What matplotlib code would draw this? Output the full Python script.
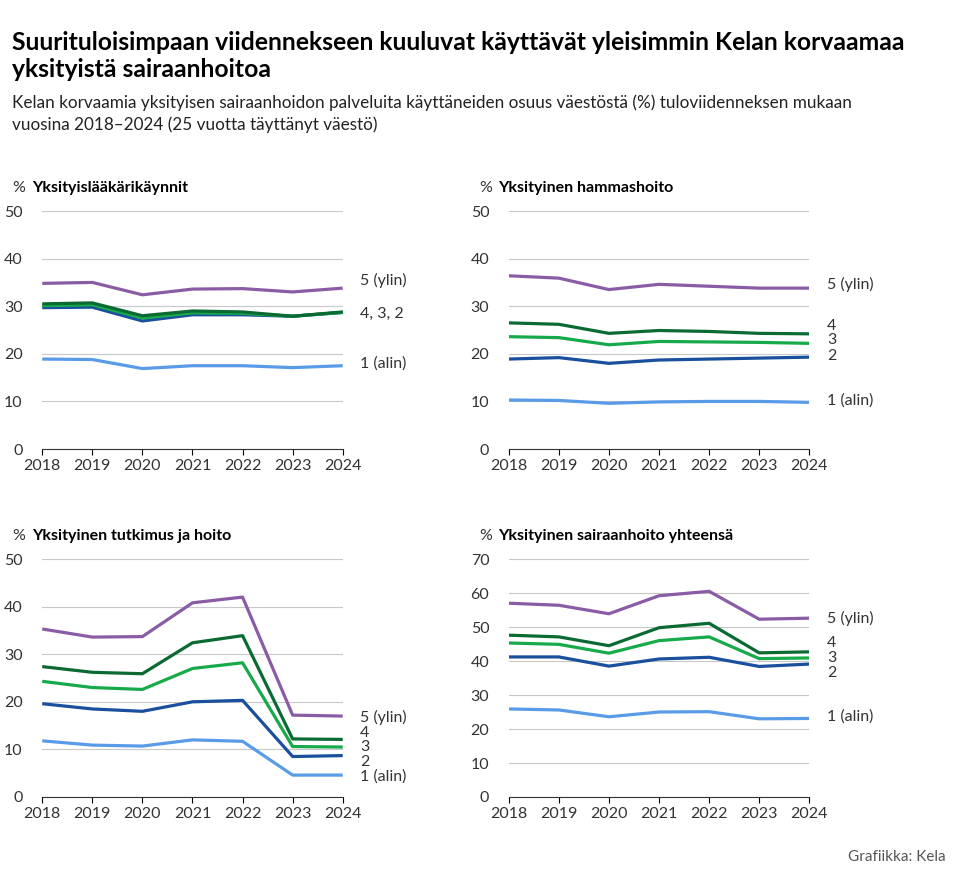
import matplotlib.pyplot as plt

years = [2018, 2019, 2020, 2021, 2022, 2023, 2024]
colors = {'5': '#8a5ca6', '4': '#0b6a32', '3': '#16aa4a', '2': '#1a4f9e', '1': '#5a9be8'}

p1 = {'5': [34.8, 35.0, 32.4, 33.6, 33.7, 33.0, 33.8],
      '4': [30.5, 30.7, 28.0, 29.0, 28.8, 27.9, 28.8],
      '3': [30.1, 30.3, 27.5, 28.6, 28.5, 27.9, 28.7],
      '2': [29.7, 29.8, 26.9, 28.2, 28.2, 27.9, 28.7],
      '1': [18.9, 18.8, 16.9, 17.5, 17.5, 17.1, 17.5]}
p2 = {'5': [36.4, 35.9, 33.5, 34.6, 34.2, 33.8, 33.8],
      '4': [26.5, 26.2, 24.3, 24.9, 24.7, 24.3, 24.2],
      '3': [23.6, 23.4, 21.9, 22.6, 22.5, 22.4, 22.2],
      '2': [18.9, 19.2, 18.0, 18.7, 18.9, 19.1, 19.3],
      '1': [10.3, 10.2, 9.6, 9.9, 10.0, 10.0, 9.8]}
p3 = {'5': [35.3, 33.6, 33.7, 40.8, 42.0, 17.2, 17.0],
      '4': [27.4, 26.2, 25.9, 32.4, 33.9, 12.2, 12.1],
      '3': [24.3, 23.0, 22.6, 27.0, 28.2, 10.6, 10.5],
      '2': [19.6, 18.5, 18.0, 20.0, 20.3, 8.5, 8.7],
      '1': [11.8, 10.9, 10.7, 12.0, 11.7, 4.6, 4.6]}
p4 = {'5': [57.0, 56.4, 53.9, 59.2, 60.5, 52.3, 52.6],
      '4': [47.6, 47.1, 44.5, 49.8, 51.1, 42.4, 42.7],
      '3': [45.3, 44.9, 42.3, 46.0, 47.1, 40.7, 40.9],
      '2': [41.2, 41.2, 38.5, 40.6, 41.1, 38.4, 39.1],
      '1': [25.9, 25.6, 23.6, 25.0, 25.1, 23.0, 23.1]}

titles = ['Yksityislääkärikäynnit', 'Yksityinen hammashoito',
          'Yksityinen tutkimus ja hoito', 'Yksityinen sairaanhoito yhteensä']
labels1 = [('5 (ylin)', 35.5), ('4, 3, 2', 28.4), ('1 (alin)', 18.0)]
labels2 = [('5 (ylin)', 34.6), ('4', 25.8), ('3', 22.9), ('2', 19.6), ('1 (alin)', 10.2)]
labels3 = [('5 (ylin)', 16.8), ('4', 13.4), ('3', 10.4), ('2', 7.4), ('1 (alin)', 4.2)]
labels4 = [('5 (ylin)', 52.6), ('4', 45.2), ('3', 40.8), ('2', 36.4), ('1 (alin)', 23.6)]

plt.rcParams['font.family'] = ['Lato', 'DejaVu Sans']
fig = plt.figure(figsize=(9.6, 8.83), dpi=100)
fig.text(0.012, 0.965, 'Suurituloisimpaan viidennekseen kuuluvat käyttävät yleisimmin Kelan korvaamaa\nyksityistä sairaanhoitoa',
         fontsize=17.8, fontweight='bold', va='top', linespacing=1.2)
fig.text(0.012, 0.893, 'Kelan korvaamia yksityisen sairaanhoidon palveluita käyttäneiden osuus väestöstä (%) tuloviidenneksen mukaan\nvuosina 2018–2024 (25 vuotta täyttänyt väestö)',
         fontsize=12.3, va='top', color='#222222', linespacing=1.4)
fig.text(0.985, 0.025, 'Grafiikka: Kela', fontsize=11, ha='right', color='#555555')

pos = [(0.044, 0.4915), (0.530, 0.4915), (0.044, 0.0974), (0.530, 0.0974)]
data = [p1, p2, p3, p4]
ymax = [50, 50, 50, 70]
labs = [labels1, labels2, labels3, labels4]
for i in range(4):
    ax = fig.add_axes([pos[i][0], pos[i][1], 0.313, 0.2695])
    for k in ['1', '2', '3', '4', '5']:
        ax.plot(years, data[i][k], color=colors[k], lw=2.3, solid_capstyle='butt')
    ax.set_ylim(0, ymax[i])
    ax.set_xlim(2018, 2024)
    ax.set_yticks(range(0, ymax[i] + 1, 10))
    ax.set_xticks(years)
    ax.grid(axis='y', color='#c8c8c8', lw=0.8)
    ax.set_axisbelow(True)
    for s in ['top', 'right', 'left']:
        ax.spines[s].set_visible(False)
    ax.spines['bottom'].set_color('#333333')
    ax.tick_params(axis='y', length=0, labelsize=11.5, labelcolor='#333333', pad=14)
    ax.tick_params(axis='x', labelsize=11.5, labelcolor='#333333', length=4)
    for t, y in labs[i]:
        ax.text(2024.35, y, t, fontsize=11.5, va='center', color='#333333')
    ax.text(-0.10, 1.095, '%', transform=ax.transAxes, fontsize=11.5, color='#333333', va='center')
    ax.text(-0.035, 1.095, titles[i], transform=ax.transAxes, fontsize=11.5, fontweight='bold', va='center')

fig.savefig('out.png', dpi=100)
